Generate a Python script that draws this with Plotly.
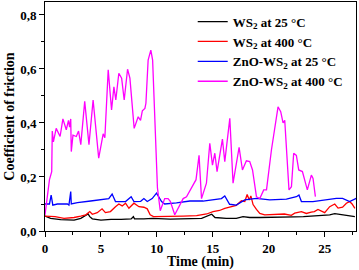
import plotly.graph_objects as go

# WS2 at 25 °C
t_ws2_25 = [0.0, 0.5, 1.4, 2.6, 3.2, 3.65, 3.85, 4.0, 4.23, 5.0, 5.9, 6.8, 7.7, 7.9, 8.0, 8.84, 9.6,
            11.2, 12.95, 14.0, 14.9, 15.2, 16.2, 17.1, 17.7, 18.3, 19.2, 20.1, 21.4, 22.3, 23.1, 24.0,
            24.4, 25.45, 25.9, 26.5, 27.2, 27.7]
cof_ws2_25 = [0.055, 0.047, 0.042, 0.04, 0.047, 0.058, 0.063, 0.053, 0.045, 0.04, 0.043, 0.043, 0.045,
              0.053, 0.045, 0.045, 0.047, 0.044, 0.047, 0.047, 0.062, 0.05, 0.047, 0.047, 0.053, 0.05,
              0.05, 0.05, 0.05, 0.052, 0.053, 0.055, 0.058, 0.06, 0.064, 0.06, 0.056, 0.053]

# WS2 at 400 °C
t_ws2_400 = [0.0, 0.9, 1.7, 2.6, 3.2, 3.65, 4.0, 4.23, 4.67, 5.1, 5.4, 5.85, 6.3, 6.6, 6.9, 7.2, 7.5,
             7.95, 8.4, 8.84, 9.14, 9.4, 9.7, 10.3, 11.2, 12.35, 13.55, 14.45, 15.02, 15.6, 16.07,
             16.67, 17.1, 17.56, 17.86, 18.07, 18.26, 18.4, 18.6, 18.9, 19.2, 19.64, 20.5, 21.4,
             22.02, 22.32, 22.92, 23.36, 23.8, 24.08, 24.4, 24.7, 25.0, 25.45, 25.9, 26.2, 26.6,
             26.94, 27.23, 27.45, 27.7]
cof_ws2_400 = [0.055, 0.053, 0.047, 0.05, 0.055, 0.06, 0.072, 0.062, 0.068, 0.082, 0.068, 0.072, 0.09,
               0.1, 0.093, 0.103, 0.084, 0.103, 0.09, 0.088, 0.082, 0.06, 0.053, 0.053, 0.053, 0.055,
               0.057, 0.063, 0.072, 0.076, 0.084, 0.09, 0.095, 0.112, 0.109, 0.135, 0.115, 0.13,
               0.098, 0.08, 0.065, 0.06, 0.062, 0.063, 0.058, 0.066, 0.072, 0.065, 0.07, 0.072, 0.08,
               0.075, 0.068, 0.09, 0.1, 0.085, 0.088, 0.103, 0.109, 0.1, 0.084]

# ZnO-WS2 at 25 °C
t_zno_25 = [0.0, 0.4, 0.55, 0.7, 1.1, 2.0, 2.14, 2.3, 2.35, 2.9, 4.08, 5.1, 5.7, 6.0, 6.3, 7.2, 7.7,
            7.95, 8.55, 8.84, 9.14, 9.58, 9.97, 10.42, 10.7, 11.75, 12.95, 14.13, 14.73, 15.77,
            16.07, 16.5, 17.1, 17.86, 18.9, 20.09, 21.58, 22.47, 22.7, 22.92, 23.95, 25.15, 26.04,
            26.6, 27.23, 27.83]
cof_zno_25 = [0.10, 0.10, 0.133, 0.096, 0.10, 0.10, 0.096, 0.146, 0.10, 0.105, 0.111, 0.115, 0.12,
              0.137, 0.109, 0.109, 0.127, 0.109, 0.11, 0.12, 0.109, 0.12, 0.14, 0.109, 0.10, 0.104,
              0.111, 0.111, 0.115, 0.12, 0.13, 0.099, 0.096, 0.115, 0.121, 0.115, 0.118, 0.127,
              0.133, 0.109, 0.109, 0.117, 0.121, 0.121, 0.109, 0.121]

# ZnO-WS2 at 400 °C
t_zno_400 = [0.0, 0.2, 0.4, 0.6, 0.65, 0.75, 1.0, 1.35, 1.6, 1.9, 2.1, 2.2, 2.3, 2.35, 2.5, 2.8, 3.0,
             3.2, 3.55, 3.93, 4.3, 4.8, 5.2, 5.35, 5.65, 5.95, 6.16, 6.33, 6.6, 6.85, 7.08, 7.38,
             7.59, 7.97, 8.33, 8.54, 8.7, 8.93, 9.02, 9.22, 9.46, 9.62, 9.9, 10.05, 10.3, 10.7,
             11.0, 11.2, 11.6, 12.35, 12.65, 13.1, 13.5, 13.77, 13.99, 14.43, 14.73, 14.97, 15.18,
             15.38, 15.86, 16.07, 16.52, 16.81, 17.35, 17.65, 18.0, 18.3, 18.55, 18.9, 19.2, 19.55,
             19.8, 20.24, 20.54, 20.83, 21.07, 21.28, 21.43, 21.63, 21.81, 22.03, 22.23, 22.47,
             22.68, 23.01, 23.21, 23.45, 23.81, 23.96, 24.17]
cof_zno_400 = [0.06, 0.12, 0.19, 0.22, 0.37, 0.33, 0.38, 0.35, 0.415, 0.375, 0.41, 0.385, 0.415,
               0.294, 0.355, 0.35, 0.37, 0.32, 0.48, 0.32, 0.485, 0.27, 0.36, 0.345, 0.597, 0.448,
               0.534, 0.485, 0.584, 0.566, 0.485, 0.599, 0.566, 0.38, 0.423, 0.41, 0.445, 0.454,
               0.473, 0.633, 0.67, 0.633, 0.3, 0.16, 0.075, 0.12, 0.12, 0.11, 0.06, 0.12, 0.127,
               0.16, 0.19, 0.28, 0.12, 0.177, 0.325, 0.244, 0.288, 0.22, 0.34, 0.257, 0.417, 0.177,
               0.31, 0.226, 0.26, 0.257, 0.226, 0.127, 0.12, 0.152, 0.152, 0.3, 0.386, 0.46, 0.442,
               0.4, 0.41, 0.275, 0.152, 0.164, 0.288, 0.28, 0.226, 0.22, 0.19, 0.152, 0.207, 0.195,
               0.127]

series = [
    ("WS<sub>2</sub> at 25 °C", t_ws2_25, cof_ws2_25, "#000000"),
    ("WS<sub>2</sub> at 400 °C", t_ws2_400, cof_ws2_400, "#ff0000"),
    ("ZnO-WS<sub>2</sub> at 25 °C", t_zno_25, cof_zno_25, "#0000ff"),
    ("ZnO-WS<sub>2</sub> at 400 °C", t_zno_400, cof_zno_400, "#ff00ff"),
]

FONT = "Liberation Serif"
fig = go.Figure()
for name, x, y, c in series:
    fig.add_trace(go.Scatter(x=x, y=y, mode="lines", name=name,
                             line=dict(color=c, width=1.3)))

fig.update_layout(
    width=359, height=270,
    margin=dict(l=45, r=3, t=2, b=39, autoexpand=False),
    plot_bgcolor="white", paper_bgcolor="white",
    separators=", ",
    font=dict(family=FONT, size=12, color="black"),
    showlegend=True,
    legend=dict(x=0.475, y=0.98, xanchor="left", yanchor="top",
                bgcolor="rgba(0,0,0,0)", font=dict(family=FONT, size=13, color="black", weight="bold"),
                tracegroupgap=0, itemwidth=30),
)
fig.update_xaxes(
    range=[0, 27.8], showgrid=False, zeroline=False, automargin=False,
    showline=True, linecolor="black", linewidth=1, mirror=True,
    ticks="outside", ticklen=5, tickcolor="black", dtick=5, tick0=0,
    minor=dict(ticks="outside", ticklen=3, dtick=2.5, tickcolor="black"),
    tickfont=dict(family=FONT, size=13, weight="bold"),
    title=dict(text="<b>Time (min)</b>", font=dict(family=FONT, size=14), standoff=6),
)
fig.update_yaxes(
    range=[0, 0.848], showgrid=False, zeroline=False, automargin=False,
    showline=True, linecolor="black", linewidth=1, mirror=True,
    ticks="outside", ticklen=5, tickcolor="black", dtick=0.2, tick0=0, tickformat=".1f",
    minor=dict(ticks="outside", ticklen=3, dtick=0.1, tickcolor="black"),
    tickfont=dict(family=FONT, size=13, weight="bold"),
    title=dict(text="<b>Coefficient of friction</b>", font=dict(family=FONT, size=14), standoff=2),
)
fig.write_html("out.html", config={"displayModeBar": False},
               post_script="document.body.style.margin='0';document.body.style.padding='0';")
